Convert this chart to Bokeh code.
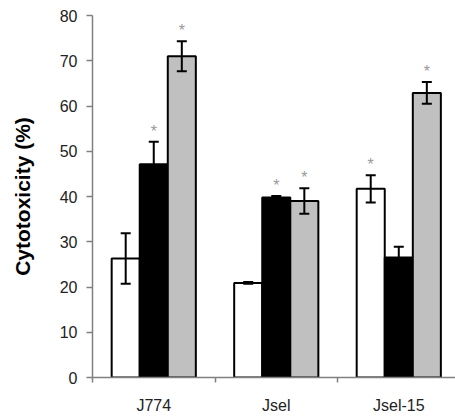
from bokeh.plotting import figure
from bokeh.models import (ColumnDataSource, Range1d, FixedTicker, Whisker, TeeHead, Title)
from bokeh.core.properties import value
from bokeh.embed import file_html
from bokeh.resources import INLINE

categories = ["J774", "Jsel", "Jsel-15"]
white_vals = [26.3, 20.9, 41.7]
white_err = [5.6, 0.2, 3.0]
white_sig = [False, False, True]
black_vals = [47.1, 39.8, 26.5]
black_err = [5.0, 0.3, 2.4]
black_sig = [True, True, False]
grey_vals = [71.0, 39.0, 62.9]
grey_err = [3.3, 2.8, 2.4]
grey_sig = [True, True, True]
y_ticks = [0, 10, 20, 30, 40, 50, 60, 70, 80]

FONT = "Liberation Sans"
BAR_W = 0.229

p = figure(width=455, height=416, output_backend="svg", toolbar_location=None,
           x_range=Range1d(0, 2.963), y_range=Range1d(0, 80),
           min_border_left=92, min_border_right=0, min_border_top=15, min_border_bottom=38)
p.outline_line_color = None
p.xgrid.grid_line_color = None
p.ygrid.grid_line_color = None
p.background_fill_color = "white"

series = [
    (white_vals, white_err, white_sig, "white", -BAR_W),
    (black_vals, black_err, black_sig, "black", 0.0),
    (grey_vals, grey_err, grey_sig, "#c0c0c0", BAR_W),
]

for vals, errs, sig, color, off in series:
    xs = [i + 0.5 + off for i in range(len(categories))]
    src = ColumnDataSource(dict(
        x=xs, top=vals,
        upper=[v + e for v, e in zip(vals, errs)],
        lower=[v - e for v, e in zip(vals, errs)],
    ))
    p.vbar(x="x", top="top", width=BAR_W, bottom=0, source=src,
           fill_color=color, line_color="black", line_width=2)
    w = Whisker(base="x", upper="upper", lower="lower", source=src, dimension="height",
                line_color="black", line_width=2, level="overlay",
                upper_head=TeeHead(size=10, line_color="black", line_width=2),
                lower_head=TeeHead(size=10, line_color="black", line_width=2))
    p.add_layout(w)
    sx = [x for x, s in zip(xs, sig) if s]
    sy = [v + e + 2.3 for v, e, s in zip(vals, errs, sig) if s]
    p.text(x=sx, y=sy, text=["*"] * len(sx), text_align="center", text_baseline="middle",
           text_font=value(FONT), text_font_size="16px", text_color="#9a9a9a")

# x axis: category labels at group centers, ticks at group boundaries
xt = FixedTicker(ticks=[i + 0.5 for i in range(len(categories))],
                 minor_ticks=list(range(len(categories) + 1)))
p.xaxis.ticker = xt
p.xaxis.major_label_overrides = {i + 0.5: c for i, c in enumerate(categories)}
p.xaxis.major_tick_out = 0
p.xaxis.major_tick_in = 0
p.xaxis.minor_tick_out = 5
p.xaxis.minor_tick_in = 0
p.xaxis.minor_tick_line_color = "#808080"
p.xaxis.minor_tick_line_width = 1.5
p.xaxis.axis_line_color = "#808080"
p.xaxis.axis_line_width = 1.5
p.xaxis.major_label_text_font = FONT
p.xaxis.major_label_text_font_size = "16px"
p.xaxis.major_label_text_color = "#222222"
p.xaxis.major_label_standoff = 14

p.yaxis.ticker = FixedTicker(ticks=y_ticks, minor_ticks=[])
p.yaxis.major_tick_out = 6
p.yaxis.major_tick_in = 0
p.yaxis.major_tick_line_color = "#808080"
p.yaxis.major_tick_line_width = 1.5
p.yaxis.axis_line_color = "#808080"
p.yaxis.axis_line_width = 1.5
p.yaxis.major_label_text_font = FONT
p.yaxis.major_label_text_font_size = "16px"
p.yaxis.major_label_text_color = "#222222"
p.yaxis.major_label_standoff = 9

ytitle = Title(text="Cytotoxicity (%)", align="center", offset=27, standoff=10,
               padding=dict(left=8, right=8, top=0, bottom=18),
               text_font=FONT, text_font_style="bold", text_font_size="21px",
               text_color="black")
p.add_layout(ytitle, "left")

open("out.html", "w").write(file_html(p, INLINE))
